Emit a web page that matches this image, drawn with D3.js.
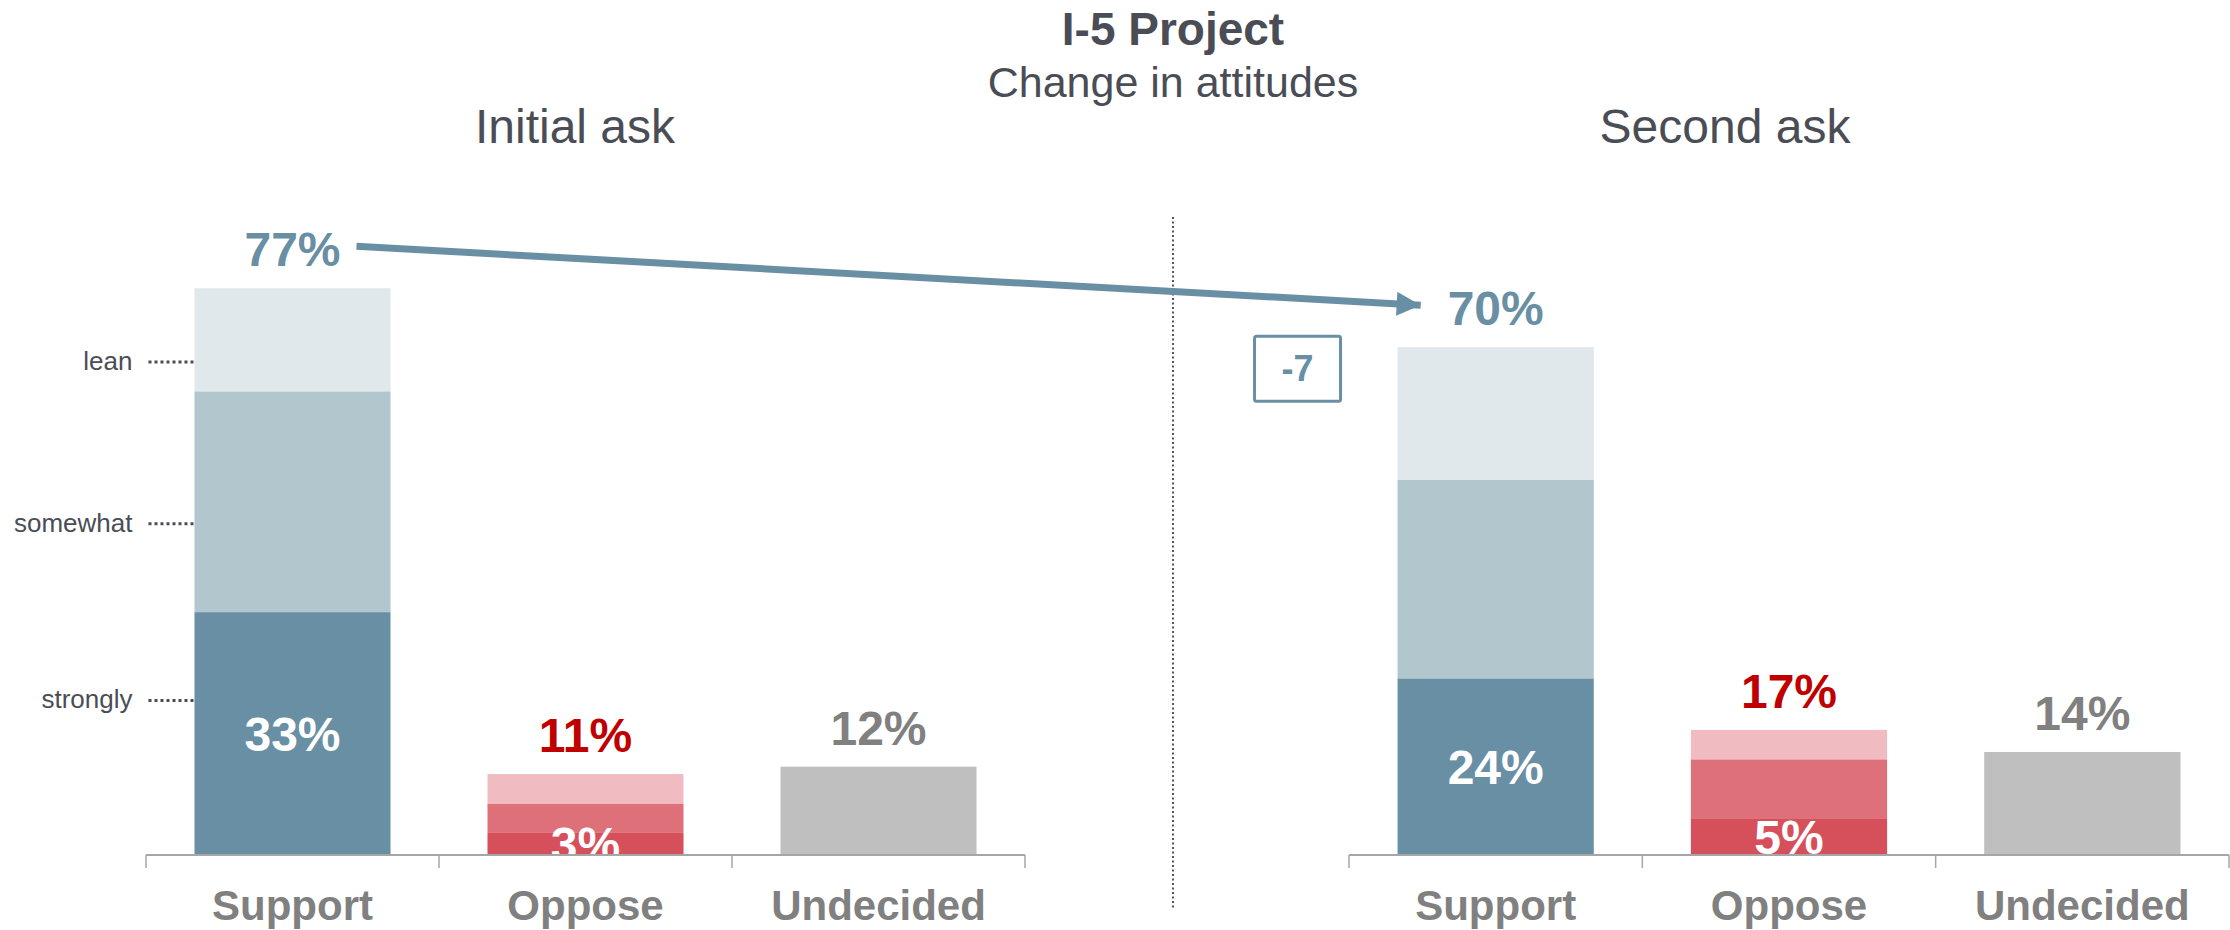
<!DOCTYPE html>
<html>
<head>
<meta charset="utf-8">
<script src="https://cdn.jsdelivr.net/npm/d3@7"></script>
<style>
  body { margin: 0; background: #fff; }
  text { font-family: "Liberation Sans", Arial, sans-serif; }
</style>
</head>
<body>
<svg id="chart" width="2230" height="930"></svg>
<script>
// data
const categories = ["Support", "Oppose", "Undecided"];
const levels = ["strongly", "somewhat", "lean"];
const panels = ["Initial ask", "Second ask"];

// support / oppose split by strength (strongly, somewhat, lean), undecided single
const supportVals = [[33, 30, 14], [24, 27, 18]];
const opposeVals = [[3, 4, 4], [5, 8, 4]];
const undecidedVals = [12, 14];
const totalLabels = [[77, 11, 12], [70, 17, 14]];

// where the strength labels point on the first bar (in % units)
const levelMarks = [21, 45, 67];

const supportColors = ["#698fa5", "#b2c6ce", "#e0e8eb"];
const opposeColors = ["#d6505c", "#de707a", "#f0bcc1"];
const undecidedColor = "#bfbfbf";
const labelColors = ["#698fa5", "#c00000", "#808080"];
const dark = "#4a4d55";

const svg = d3.select("#chart");

let y = d3.scaleLinear().domain([0, 100]).range([855, 119]);

let panelRanges = [[146, 1025], [1349, 2229]];
let headerX = [575, 1725];

// title
svg.append("text")
  .attr("x", 1173).attr("y", 45)
  .attr("text-anchor", "middle")
  .attr("font-size", 46).attr("font-weight", "bold")
  .attr("fill", dark)
  .text("I-5 Project");

svg.append("text")
  .attr("x", 1173).attr("y", 97)
  .attr("text-anchor", "middle")
  .attr("font-size", 43)
  .attr("fill", dark)
  .text("Change in attitudes");

// divider
svg.append("line")
  .attr("x1", 1173).attr("x2", 1173)
  .attr("y1", 217).attr("y2", 908)
  .attr("stroke", "#555").attr("stroke-width", 2)
  .attr("stroke-dasharray", "2,2.5");

// clip so labels don't go under the baseline
svg.append("defs").append("clipPath").attr("id", "aboveAxis")
  .append("rect").attr("x", 0).attr("y", 0).attr("width", 2230).attr("height", y(0));

let xs = [];

panels.forEach(function(name, p) {
  let x = d3.scaleBand()
    .domain(categories)
    .range(panelRanges[p])
    .paddingInner(0.331)
    .paddingOuter(0.1655);
  xs.push(x);

  let g = svg.append("g");

  g.append("text")
    .attr("x", headerX[p]).attr("y", 143)
    .attr("text-anchor", "middle")
    .attr("font-size", 48)
    .attr("fill", dark)
    .text(name);

  // stacked segments
  let segs = [];
  let stackUp = function(cat, vals, colors) {
    let base = 0;
    vals.forEach(function(v, i) {
      segs.push({ cat: cat, y0: base, y1: base + v, color: colors[i], level: i, v: v });
      base += v;
    });
  };
  stackUp("Support", supportVals[p], supportColors);
  stackUp("Oppose", opposeVals[p], opposeColors);
  segs.push({ cat: "Undecided", y0: 0, y1: undecidedVals[p], color: undecidedColor, level: -1, v: undecidedVals[p] });

  g.selectAll("rect.seg")
    .data(segs)
    .enter().append("rect")
    .attr("class", "seg")
    .attr("x", d => x(d.cat))
    .attr("width", x.bandwidth())
    .attr("y", d => y(d.y1))
    .attr("height", d => y(d.y0) - y(d.y1))
    .attr("fill", d => d.color);

  // strongly labels inside bars
  g.append("g").attr("clip-path", "url(#aboveAxis)")
    .selectAll("text")
    .data(segs.filter(d => d.level === 0))
    .enter().append("text")
    .attr("x", d => x(d.cat) + x.bandwidth() / 2)
    .attr("y", d => (y(d.y0) + y(d.y1)) / 2 + 17)
    .attr("text-anchor", "middle")
    .attr("font-size", 48).attr("font-weight", "bold")
    .attr("fill", "#fff")
    .text(d => d.v + "%");

  // totals on top
  let tops = [d3.sum(supportVals[p]), d3.sum(opposeVals[p]), undecidedVals[p]];
  g.selectAll("text.total")
    .data(categories)
    .enter().append("text")
    .attr("class", "total")
    .attr("x", d => x(d) + x.bandwidth() / 2)
    .attr("y", (d, i) => y(tops[i]) - 22)
    .attr("text-anchor", "middle")
    .attr("font-size", 48).attr("font-weight", "bold")
    .attr("fill", (d, i) => labelColors[i])
    .text((d, i) => totalLabels[p][i] + "%");

  // axis
  let r = x.range();
  g.append("line")
    .attr("x1", r[0]).attr("x2", r[1])
    .attr("y1", y(0)).attr("y2", y(0))
    .attr("stroke", "#a6a6a6").attr("stroke-width", 2);

  let step = x.step();
  let edges = d3.range(categories.length + 1).map(i => r[0] + i * step);
  g.selectAll("line.tick")
    .data(edges)
    .enter().append("line")
    .attr("class", "tick")
    .attr("x1", d => d).attr("x2", d => d)
    .attr("y1", y(0)).attr("y2", y(0) + 13)
    .attr("stroke", "#a6a6a6").attr("stroke-width", 1.5);

  g.selectAll("text.cat")
    .data(categories)
    .enter().append("text")
    .attr("class", "cat")
    .attr("x", d => x(d) + x.bandwidth() / 2)
    .attr("y", 920)
    .attr("text-anchor", "middle")
    .attr("font-size", 42).attr("font-weight", "bold")
    .attr("fill", "#808080")
    .text(d => d);
});

// strength labels on the left
let x0 = xs[0];
let lg = svg.append("g");
lg.selectAll("line")
  .data(levelMarks)
  .enter().append("line")
  .attr("x1", x0("Support") - 46).attr("x2", x0("Support") - 1)
  .attr("y1", d => y(d)).attr("y2", d => y(d))
  .attr("stroke", dark).attr("stroke-width", 3)
  .attr("stroke-dasharray", "3,3");

lg.selectAll("text")
  .data(levelMarks)
  .enter().append("text")
  .attr("x", x0("Support") - 62)
  .attr("y", d => y(d) + 8)
  .attr("text-anchor", "end")
  .attr("font-size", 26)
  .attr("fill", dark)
  .text((d, i) => levels[i]);

// change arrow between the two support totals
let s0 = d3.sum(supportVals[0]), s1 = d3.sum(supportVals[1]);
let ax1 = x0("Support") + x0.bandwidth() / 2 + 64, ay1 = y(s0) - 42;
let ax2 = xs[1]("Support") + xs[1].bandwidth() / 2 - 75, ay2 = y(s1) - 42;

let defs = svg.select("defs");
defs.append("marker")
  .attr("id", "head")
  .attr("viewBox", "0 0 10 10")
  .attr("refX", 10).attr("refY", 5)
  .attr("markerUnits", "userSpaceOnUse")
  .attr("markerWidth", 24).attr("markerHeight", 24)
  .attr("orient", "auto")
  .append("path")
  .attr("d", "M0,0 L10,5 L0,10 Z")
  .attr("fill", supportColors[0]);

svg.append("line")
  .attr("x1", ax1).attr("y1", ay1)
  .attr("x2", ax2).attr("y2", ay2)
  .attr("stroke", supportColors[0]).attr("stroke-width", 7)
  .attr("marker-end", "url(#head)");

// change box
let diff = totalLabels[1][0] - totalLabels[0][0];
let bx = xs[1]("Support") - 100, by = y(s1) + 21;
svg.append("rect")
  .attr("x", bx - 43).attr("y", by - 32)
  .attr("width", 86).attr("height", 65)
  .attr("rx", 2)
  .attr("fill", "none")
  .attr("stroke", supportColors[0]).attr("stroke-width", 3);

svg.append("text")
  .attr("x", bx).attr("y", by + 13)
  .attr("text-anchor", "middle")
  .attr("font-size", 36).attr("font-weight", "bold")
  .attr("fill", supportColors[0])
  .text(diff);
</script>
</body>
</html>
